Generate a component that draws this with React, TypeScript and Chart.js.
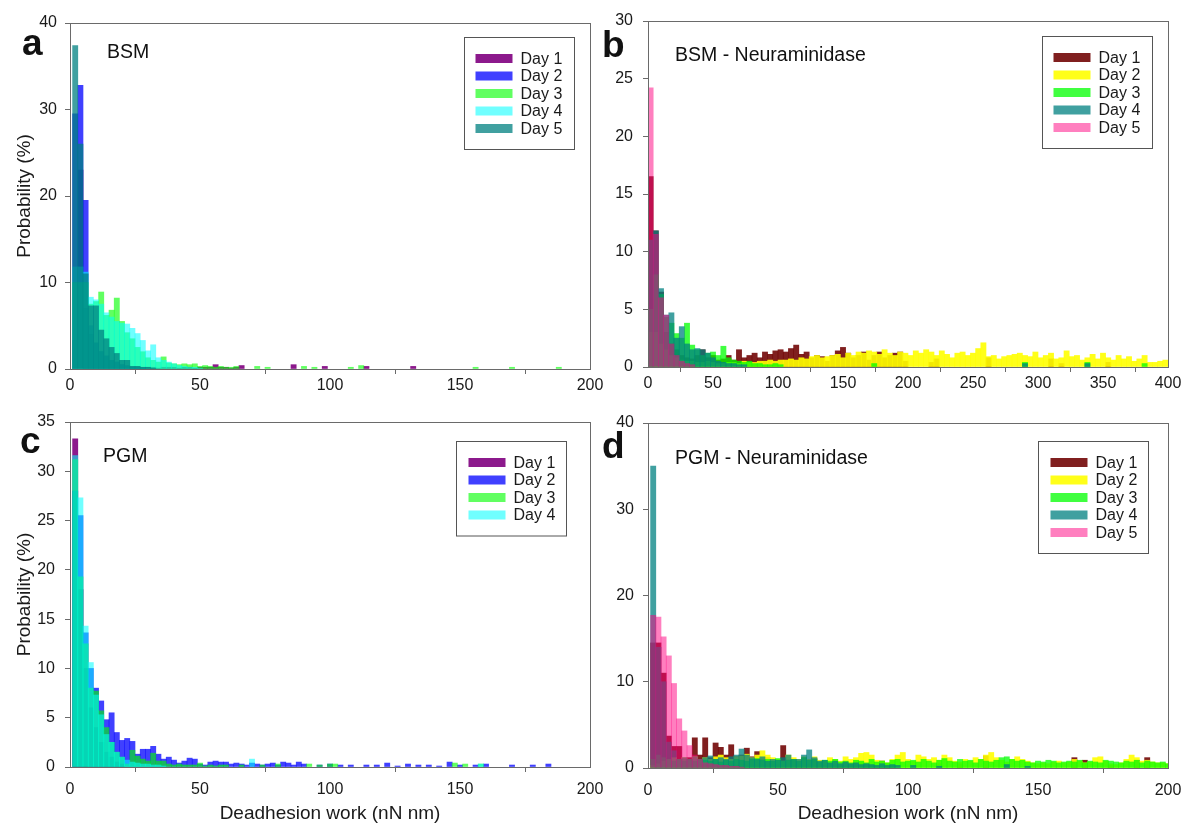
import React, { useEffect, useRef } from 'react';
import { Chart, registerables } from 'chart.js';
Chart.register(...registerables);

const FONT = "'Liberation Sans', Arial, Helvetica, sans-serif";
const AXIS = '#6a6a6a';
const TXT = '#1a1a1a';

// ---------- Panel a : BSM (bin width 2, centres 2,4,6,...) ----------
const aDay1 = [3.3, 23, 7, 4, 3, 2, 1.5, 1, 0.8, 0.5, 0.4, 0.3, 0.3, 0.2, 0.2, 0.2, 0.1, 0.2, 0.2, 0.2, 0.1, 0.2, 0.2, 0.1, 0.2, 0.2, 0.2, 0.5, 0.2, 0.2, 0.1, 0.2, 0.4];
const aDay1Tail = [[86, 0.5], [98, 0.3], [114, 0.3], [132, 0.3]];
const aDay2 = [29.5, 32.8, 19.5, 5, 3, 2, 1.5, 1.0, 0.8, 0.5, 0.3, 0.2, 0.2, 0.1];
const aDay3 = [10, 10, 10, 7.5, 7.8, 8.9, 6.2, 6.8, 8.2, 5.5, 4.2, 3.5, 2.5, 2.0, 1.3, 1.0, 0.8, 1.4, 0.7, 0.6, 0.5, 0.6, 0.5, 0.6, 0.3, 0.4, 0.3, 0.2, 0.3, 0.2, 0.2, 0.3];
const aDay3Tail = [[72, 0.3], [76, 0.2], [90, 0.3], [94, 0.2], [108, 0.2], [112, 0.4], [156, 0.2], [170, 0.2], [188, 0.2]];
const aDay4 = [11.8, 11.8, 11.2, 8.3, 8.0, 7.5, 6.5, 6.0, 5.5, 5.3, 5.2, 4.7, 4.1, 3.3, 2.1, 2.8, 1.3, 1.0, 0.8, 0.6, 0.4, 0.3, 0.2, 0.2, 0.1];
const aDay5 = [37.4, 26, 11, 7.3, 7.3, 4.5, 3.5, 2.5, 1.8, 1.0, 1.0, 0.3, 0.3, 0.2, 0.2, 0.1];

// ---------- Panel b : BSM - Neuraminidase (bin width 4, centres 2,6,10,...) ----------
const bDay1 = [
  16.5, 11.8, 6.5, 3.0, 2.0, 1.5, 1.0, 0.8, 0.7, 1.0,
  1.5, 0.8, 1.0, 0.6, 0.7, 1.0, 0.6, 1.5, 0.8, 1.0,
  1.2, 0.8, 1.3, 1.1, 1.4, 1.5, 1.3, 1.6, 1.9, 1.1,
  1.3, 0.8, 1.0, 0.9, 0.5, 1.0, 1.4, 1.7, 1.2, 0.8,
  1.0, 1.3, 0.6, 1.0, 1.3, 0.8, 1.0, 1.2, 1.3, 0.5,
];
const bDay1Tail = [[218, 0.4], [222, 0.7], [262, 0.8], [310, 0.7], [318, 0.3], [354, 0.4]];
const bDay2 = [
  3, 3, 2, 1.5, 1, 0.8, 0.6, 0.5, 0.5, 0.4,
  0.4, 0.5, 0.4, 0.3, 0.3, 0.4, 0.4, 0.3, 0.5, 0.4,
  0.4, 0.5, 0.5, 0.6, 0.5, 0.6, 0.6, 0.7, 0.6, 0.8,
  0.7, 0.9, 1.0, 0.8, 0.9, 1.0, 1.1, 0.8, 1.2, 1.0,
  1.3, 1.2, 1.4, 1.3, 1.1, 1.5, 1.2, 1.0, 1.3, 1.2,
  1.0, 1.4, 1.2, 1.5, 1.3, 1.0, 1.4, 1.1, 0.8, 1.2,
  1.3, 1.0, 1.2, 1.6, 2.1, 0.9, 1.0, 0.7, 0.9, 1.0,
  1.1, 1.2, 1.0, 0.9, 1.3, 0.8, 1.0, 1.2, 0.7, 0.8,
  1.4, 0.9, 1.0, 0.6, 0.8, 1.1, 0.7, 1.2, 0.8, 0.6,
  1.0, 0.7, 0.9, 0.5, 0.7, 1.0, 0.4, 0.4, 0.5, 0.6,
];
const bDay3 = [5, 8, 6.3, 4.3, 3.8, 2.9, 2.5, 3.8, 1.9, 1.5, 1.0, 1.2, 1.3, 1.0, 1.8, 0.8, 0.6, 0.5, 0.4, 0.5, 0.3, 0.3, 0.2, 0.2, 0.3, 0.2];
const bDay3Tail = [[174, 0.3], [290, 0.4], [338, 0.4], [382, 0.3]];
const bDay4 = [11, 11.8, 6.8, 4.5, 4.7, 2.5, 3.5, 2.0, 1.5, 1.6, 1.5, 1.2, 0.8, 0.5, 0.4, 0.3, 0.3, 0.2, 0.2];
const bDay4Tail = [[290, 0.3], [338, 0.3]];
const bDay5 = [24.2, 11.5, 6.0, 4.5, 2.0, 1.0, 0.5, 0.3, 0.2];

// ---------- Panel c : PGM (bin width 2) ----------
const cDay1 = [33.3, 18, 10, 6, 4, 2.5, 1.5, 1, 0.5, 0.3];
const cDay2 = [
  28, 25.5, 13.6, 10, 8, 6.7, 4.8, 5.5, 3.5, 2.7,
  2.9, 2.6, 1.3, 1.8, 1.8, 2.1, 1.3, 0.8, 1.0, 0.7,
  0.4, 0.6, 0.9, 0.8, 0.3, 0.2, 0.5, 0.6, 0.5, 0.5,
  0.3, 0.4, 0.3, 0.2, 0.4, 0.3, 0.2, 0.3, 0.4, 0.2,
  0.5, 0.4, 0.2, 0.5, 0.3,
];
const cDay2Tail = [[96, 0.2], [100, 0.3], [104, 0.2], [108, 0.2], [114, 0.2], [118, 0.2], [122, 0.4], [126, 0.1], [130, 0.3], [134, 0.2], [138, 0.2], [142, 0.1], [146, 0.5], [150, 0.2], [156, 0.2], [160, 0.3], [170, 0.2], [178, 0.2], [184, 0.3]];
const cDay3 = [31.2, 19.3, 12.5, 8, 7.7, 5.7, 4, 2.5, 1.5, 1.0, 0.3, 1.7, 1.1, 0.8, 0.6, 1.4, 0.6, 0.6, 0.3, 0.2, 0.3, 0.2, 0.2, 0.2, 0.4, 0.1, 0.2, 0.1, 0.2, 0.2];
const cDay3Tail = [[66, 0.2], [74, 0.2], [80, 0.3], [92, 0.3], [96, 0.2], [100, 0.3], [102, 0.3], [148, 0.4], [152, 0.3], [158, 0.3]];
const cDay4 = [31.6, 27.3, 14.3, 10.6, 7.3, 5.3, 3.3, 2.5, 1.5, 1.0, 0.7, 0.5, 0.4, 0.3, 0.3, 0.2, 0.2, 0.1];
const cDay4Tail = [[70, 0.8], [158, 0.3]];

// ---------- Panel d : PGM - Neuraminidase (bin width 2) ----------
const dDay1 = [
  14.5, 14.5, 11, 3.7, 2.5, 2.5, 1.0, 1.2, 3.5, 1.5,
  3.5, 1.2, 2.9, 2.4, 1.5, 2.7, 1.3, 1.5, 2.3, 1.3,
  1.9, 1.0, 1.2, 0.8, 0.5, 2.6, 1.0, 0.8, 0.7, 1.2,
  0.5, 1.1, 0.6, 0.3, 0.4, 0.5, 0.3, 0.2, 0.4, 0.3,
  0.6, 0.3, 0.2, 0.3, 0.8, 0.5, 0.3,
];
const dDay1Tail = [[112, 0.5], [120, 0.5], [130, 1.4], [164, 1.2], [168, 0.9], [178, 0.3], [188, 0.9], [192, 1.2]];
const dDay2 = [
  0.3, 0.5, 0.8, 1.0, 1.2, 1.0, 1.2, 1.0, 1.3, 1.0,
  1.2, 1.0, 1.3, 1.5, 1.2, 1.0, 1.3, 1.4, 1.6, 1.2,
  1.5, 2.0, 1.5, 1.2, 1.0, 0.8, 1.5, 1.2, 1.0, 1.3,
  1.0, 1.3, 0.9, 0.8, 1.2, 1.0, 0.8, 1.3, 1.0, 1.2,
  1.7, 1.8, 1.5, 0.9, 0.8, 0.6, 1.0, 1.5, 1.8, 1.0,
  0.8, 1.5, 1.3, 1.0, 1.2, 0.9, 1.5, 1.2, 0.8, 0.7,
  1.0, 0.8, 1.2, 1.0, 1.5, 1.8, 1.2, 0.9, 0.7, 1.0,
  1.3, 1.0, 0.8, 0.6, 0.5, 0.6, 0.5, 0.7, 0.8, 0.6,
  0.7, 1.0, 0.8, 0.6, 0.7, 1.2, 1.3, 0.8, 0.5, 0.4,
  0.6, 1.0, 1.5, 1.2, 0.8, 0.9, 0.7, 0.6, 0.6, 0.5,
];
const dDay3 = [
  1.0, 1.5, 1.2, 1.0, 0.8, 1.0, 0.8, 1.0, 0.8, 1.0,
  0.9, 0.8, 1.0, 0.7, 0.9, 0.8, 1.0, 0.9, 0.8, 1.0,
  1.1, 0.9, 1.0, 0.8, 1.1, 0.8, 0.9, 1.0, 0.8, 1.2,
  0.9, 1.0, 0.7, 0.9, 0.8, 1.0, 0.7, 0.8, 0.6, 0.9,
  0.8, 0.6, 1.0, 0.7, 0.8, 0.6, 0.9, 1.0, 0.7, 0.8,
  0.9, 0.7, 1.0, 0.8, 0.6, 0.9, 1.1, 0.8, 0.7, 1.0,
  0.8, 0.9, 0.6, 1.0, 0.8, 0.7, 0.9, 1.2, 1.3, 1.0,
  0.8, 0.9, 0.7, 0.6, 0.8, 0.7, 0.9, 0.8, 0.6, 0.7,
  0.8, 0.7, 0.9, 0.6, 0.8, 0.7, 0.6, 0.9, 0.8, 0.7,
  0.6, 0.8, 0.7, 0.9, 0.6, 0.8, 0.7, 0.6, 0.7, 0.5,
];
const dDay4 = [
  35, 14, 10, 3.0, 2.0, 1.0, 1.2, 1.0, 1.3, 1.0,
  1.2, 1.4, 1.0, 1.2, 1.0, 1.3, 1.5, 2.2, 1.5, 1.2,
  1.0, 1.3, 0.8, 1.0, 0.9, 1.2, 1.5, 1.0, 1.0, 1.5,
  2.1, 1.2, 0.8, 0.9, 0.6, 0.8, 0.5, 0.7, 0.5, 0.6,
  0.4, 0.5, 0.4, 0.3, 0.5, 0.3, 0.4, 0.3,
];
const dDay4Tail = [[102, 0.3], [112, 0.2], [138, 0.4], [146, 0.2]];
const dDay5 = [17.7, 17.5, 15.2, 13, 9.8, 5.7, 4.3, 2.6, 1.5, 1.0, 0.6, 0.5, 0.4, 0.3, 0.3, 0.2, 0.2, 0.1];

const dayLabels = ['Day 1', 'Day 2', 'Day 3', 'Day 4', 'Day 5'];
// translucent fills (colour + opacity), as in the original figure
const purpleSet = ['rgba(128,0,128,0.9)', 'rgba(0,0,255,0.75)', 'rgba(0,255,0,0.62)', 'rgba(0,255,255,0.56)', 'rgba(0,128,128,0.75)'];
const redSet = ['rgba(110,0,0,0.88)', 'rgba(255,255,0,0.9)', 'rgba(0,255,0,0.75)', 'rgba(0,128,128,0.75)', 'rgba(255,0,128,0.5)'];

function toPoints(head: number[], step: number, tail: number[][] = []) {
  const pts = head.map((y, i) => ({ x: 2 + i * step, y }));
  tail.forEach(([x, y]) => pts.push({ x, y }));
  return pts;
}

type PanelCfg = {
  key: string;
  letter: string;
  title: string;
  canvas: { left: number; top: number; width: number; height: number };
  area: { left: number; top: number; right: number; bottom: number };
  xMax: number; xStep: number; yMax: number; yStep: number;
  yTitle: boolean; xTitle: boolean; yPad: number; xPad: number;
  letterPos: [number, number]; titlePos: [number, number];
  legend: { right: number; top: number; swX: number; txtX: number };
  series: { label: string; color: string; data: { x: number; y: number }[] }[];
};

const panels: PanelCfg[] = [
  {
    key: 'a', letter: 'a', title: 'BSM',
    canvas: { left: 0, top: 0, width: 612, height: 400 },
    area: { left: 70, top: 23, right: 590, bottom: 369 },
    xMax: 200, xStep: 50, yMax: 40, yStep: 10,
    yTitle: true, xTitle: false, yPad: 8, xPad: 2,
    letterPos: [22, 55], titlePos: [107, 58],
    legend: { right: 16, top: 14, swX: 11, txtX: 56 },
    series: [
      { label: dayLabels[0], color: purpleSet[0], data: toPoints(aDay1, 2, aDay1Tail) },
      { label: dayLabels[1], color: purpleSet[1], data: toPoints(aDay2, 2) },
      { label: dayLabels[2], color: purpleSet[2], data: toPoints(aDay3, 2, aDay3Tail) },
      { label: dayLabels[3], color: purpleSet[3], data: toPoints(aDay4, 2) },
      { label: dayLabels[4], color: purpleSet[4], data: toPoints(aDay5, 2) },
    ],
  },
  {
    key: 'b', letter: 'b', title: 'BSM - Neuraminidase',
    canvas: { left: 590, top: 0, width: 595, height: 400 },
    area: { left: 58, top: 21, right: 578, bottom: 367 },
    xMax: 400, xStep: 50, yMax: 30, yStep: 5,
    yTitle: false, xTitle: false, yPad: 10, xPad: 2,
    letterPos: [12, 57], titlePos: [85, 61],
    legend: { right: 16, top: 15, swX: 11, txtX: 56 },
    series: [
      { label: dayLabels[0], color: redSet[0], data: toPoints(bDay1, 4, bDay1Tail) },
      { label: dayLabels[1], color: redSet[1], data: toPoints(bDay2, 4) },
      { label: dayLabels[2], color: redSet[2], data: toPoints(bDay3, 4, bDay3Tail) },
      { label: dayLabels[3], color: redSet[3], data: toPoints(bDay4, 4, bDay4Tail) },
      { label: dayLabels[4], color: redSet[4], data: toPoints(bDay5, 4) },
    ],
  },
  {
    key: 'c', letter: 'c', title: 'PGM',
    canvas: { left: 0, top: 400, width: 612, height: 428 },
    area: { left: 70, top: 22, right: 590, bottom: 367 },
    xMax: 200, xStep: 50, yMax: 35, yStep: 5,
    yTitle: true, xTitle: true, yPad: 10, xPad: 8,
    letterPos: [20, 53], titlePos: [103, 62],
    legend: { right: 24, top: 19, swX: 12, txtX: 57 },
    series: [
      { label: dayLabels[0], color: purpleSet[0], data: toPoints(cDay1, 2) },
      { label: dayLabels[1], color: purpleSet[1], data: toPoints(cDay2, 2, cDay2Tail) },
      { label: dayLabels[2], color: purpleSet[2], data: toPoints(cDay3, 2, cDay3Tail) },
      { label: dayLabels[3], color: purpleSet[3], data: toPoints(cDay4, 2, cDay4Tail) },
    ],
  },
  {
    key: 'd', letter: 'd', title: 'PGM - Neuraminidase',
    canvas: { left: 590, top: 400, width: 595, height: 428 },
    area: { left: 58, top: 23, right: 578, bottom: 368 },
    xMax: 200, xStep: 50, yMax: 40, yStep: 10,
    yTitle: false, xTitle: true, yPad: 9, xPad: 8,
    letterPos: [12, 58], titlePos: [85, 64],
    legend: { right: 20, top: 18, swX: 12, txtX: 57 },
    series: [
      { label: dayLabels[0], color: redSet[0], data: toPoints(dDay1, 2, dDay1Tail) },
      { label: dayLabels[1], color: redSet[1], data: toPoints(dDay2, 2) },
      { label: dayLabels[2], color: redSet[2], data: toPoints(dDay3, 2) },
      { label: dayLabels[3], color: redSet[3], data: toPoints(dDay4, 2, dDay4Tail) },
      { label: dayLabels[4], color: redSet[4], data: toPoints(dDay5, 2) },
    ],
  },
];

const framePlugin = {
  id: 'frameAndLegend',
  afterDraw(chart: any, _args: any, opts: any) {
    const { ctx, chartArea } = chart;
    const cfg: PanelCfg = opts.cfg;
    ctx.save();
    ctx.strokeStyle = AXIS;
    ctx.lineWidth = 1;
    ctx.strokeRect(Math.round(chartArea.left) + 0.5, Math.round(chartArea.top) + 0.5,
      Math.round(chartArea.right - chartArea.left), Math.round(chartArea.bottom - chartArea.top));
    const n = cfg.series.length;
    const rowH = 17.5;
    const boxW = 110;
    const boxH = 42 + (n - 1) * rowH;
    const x0 = Math.round(chartArea.right - cfg.legend.right - boxW) + 0.5;
    const y0 = Math.round(chartArea.top + cfg.legend.top) + 0.5;
    ctx.fillStyle = '#ffffff';
    ctx.fillRect(x0, y0, boxW, boxH);
    ctx.strokeStyle = '#555555';
    ctx.strokeRect(x0, y0, boxW, boxH);
    ctx.font = `16px ${FONT}`;
    ctx.textBaseline = 'middle';
    ctx.textAlign = 'left';
    cfg.series.forEach((s, i) => {
      const cy = y0 + 21 + i * rowH;
      ctx.fillStyle = s.color;
      ctx.fillRect(x0 + cfg.legend.swX, cy - 4.5, 37, 9);
      ctx.fillStyle = TXT;
      ctx.fillText(s.label, x0 + cfg.legend.txtX, cy + 1);
    });
    ctx.textBaseline = 'alphabetic';
    ctx.fillStyle = '#111';
    ctx.font = `bold 37px ${FONT}`;
    ctx.fillText(cfg.letter, cfg.letterPos[0], cfg.letterPos[1]);
    ctx.font = `19.5px ${FONT}`;
    ctx.fillText(cfg.title, cfg.titlePos[0], cfg.titlePos[1]);
    ctx.restore();
  },
};

function Panel({ cfg }: { cfg: PanelCfg }) {
  const ref = useRef<HTMLCanvasElement>(null);
  useEffect(() => {
    const n = cfg.series.length;
    const chart = new Chart(ref.current as HTMLCanvasElement, {
      type: 'bar',
      data: {
        datasets: cfg.series.map((s, i) => ({
          label: s.label,
          data: s.data as any,
          backgroundColor: s.color,
          borderWidth: 0,
          grouped: false,
          barPercentage: 1,
          categoryPercentage: 1,
          order: n - i,
        })) as any,
      },
      options: {
        animation: false,
        responsive: false,
        events: [],
        layout: { padding: { left: 0, top: cfg.area.top, right: cfg.canvas.width - cfg.area.right, bottom: 0 } },
        plugins: {
          legend: { display: false },
          tooltip: { enabled: false },
          frameAndLegend: { cfg },
        } as any,
        scales: {
          x: {
            type: 'linear',
            min: 0,
            max: cfg.xMax,
            offset: false,
            ticks: { stepSize: cfg.xStep, font: { family: FONT, size: 16 }, color: TXT, padding: cfg.xPad, maxRotation: 0, autoSkip: false },
            grid: { drawOnChartArea: false, tickLength: 5, color: AXIS },
            border: { color: AXIS },
            title: { display: cfg.xTitle, text: 'Deadhesion work (nN nm)', font: { family: FONT, size: 19 }, color: TXT, padding: { top: 0, bottom: 3 } },
            afterFit: (s: any) => {
              s.height = cfg.canvas.height - cfg.area.bottom;
              s.paddingLeft = 0;
              s.paddingRight = 0;
            },
          },
          y: {
            min: 0,
            max: cfg.yMax,
            ticks: { stepSize: cfg.yStep, font: { family: FONT, size: 16 }, color: TXT, padding: cfg.yPad },
            grid: { drawOnChartArea: false, tickLength: 5, color: AXIS },
            border: { color: AXIS },
            title: { display: cfg.yTitle, text: 'Probability (%)', font: { family: FONT, size: 19 }, color: TXT, padding: { top: 13, bottom: 0 } },
            afterFit: (s: any) => {
              s.width = cfg.area.left;
              s.paddingTop = 0;
              s.paddingBottom = 0;
            },
          },
        } as any,
      },
      plugins: [framePlugin],
    });
    return () => chart.destroy();
  }, [cfg]);
  return (
    <canvas
      ref={ref}
      width={cfg.canvas.width}
      height={cfg.canvas.height}
      style={{ position: 'absolute', left: cfg.canvas.left, top: cfg.canvas.top, width: cfg.canvas.width, height: cfg.canvas.height }}
    />
  );
}

export default function App() {
  return (
    <div style={{ position: 'fixed', left: 0, top: 0, width: 1185, height: 828, background: '#ffffff', overflow: 'hidden' }}>
      {panels.map((p) => (
        <Panel key={p.key} cfg={p} />
      ))}
    </div>
  );
}
